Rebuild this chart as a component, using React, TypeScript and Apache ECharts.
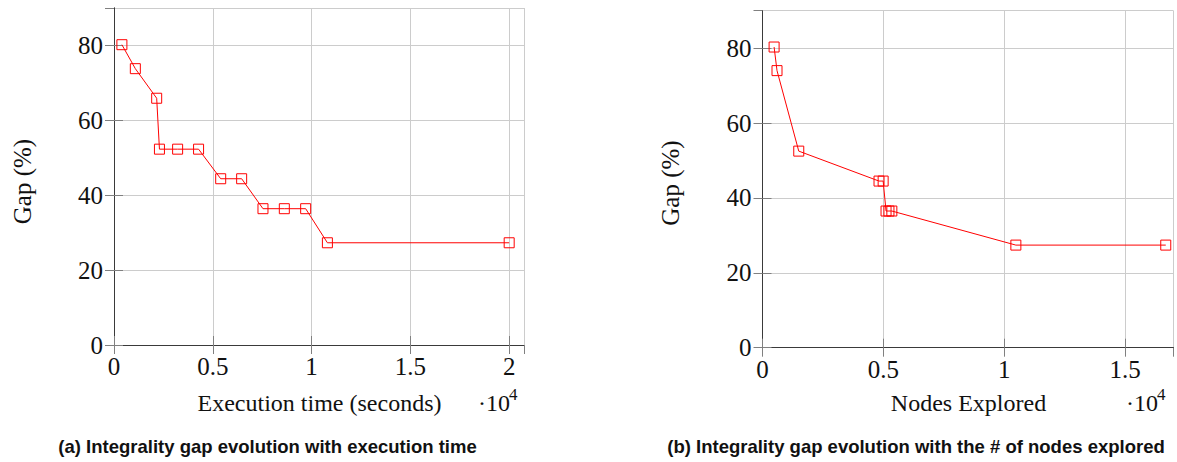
import React, { useEffect, useRef } from "react";
import * as echarts from "echarts";

// Left plot: gap vs execution time (seconds)
const timeSeconds = [400, 1080, 2160, 2300, 3220, 4280, 5400, 6460, 7540, 8620, 9700, 10800, 20000];
const timeGap = [80.2, 73.8, 65.9, 52.3, 52.3, 52.3, 44.4, 44.4, 36.4, 36.4, 36.4, 27.3, 27.3];

// Right plot: gap vs nodes explored
const nodesExplored = [480, 600, 1500, 4820, 4990, 5110, 5230, 5350, 10480, 16680];
const nodesGap = [80.3, 74.0, 52.5, 44.5, 44.5, 36.5, 36.5, 36.5, 27.4, 27.4];

const yTicks = [0, 20, 40, 60, 80];
const xTickLabels = ["0", "0.5", "1", "1.5", "2"];

const yAxisTitle = "Gap (%)";
const xTitleLeft = "Execution time (seconds)";
const xTitleRight = "Nodes Explored";
const captionLeft = "(a) Integrality gap evolution with execution time";
const captionRight = "(b) Integrality gap evolution with the # of nodes explored";

const SERIF = "Liberation Serif";
const SANS = "Liberation Sans";
const RED = "#ff0000";
const FRAME = "#3a3a3a";
const GRID = "#cccccc";
const TICK = "#808080";

export default function App() {
  const ref = useRef<HTMLDivElement>(null);

  useEffect(() => {
    if (!ref.current) return;
    const chart = echarts.init(ref.current, undefined, { renderer: "svg" });

    const xFmt = (v: number) => {
      const i = Math.round(v / 5000);
      if (Math.abs(v - i * 5000) > 1e-6) return "";
      return xTickLabels[i] ?? "";
    };
    const yFmt = (v: number) => (yTicks.includes(v) ? String(v) : "");

    const tick = { show: true, inside: true, length: 9, lineStyle: { color: TICK, width: 1 } };
    const line = { show: true, lineStyle: { color: FRAME, width: 1 } };

    const mainX = (gridIndex: number, max: number) => ({
      type: "value",
      gridIndex,
      min: 0,
      max,
      interval: 5000,
      position: "bottom",
      axisLine: line,
      axisTick: tick,
      axisLabel: {
        show: true,
        formatter: xFmt,
        margin: 9,
        fontFamily: SERIF,
        fontSize: 25,
        color: "#111",
        showMaxLabel: false,
      },
      splitLine: { show: true, lineStyle: { color: GRID, width: 1 } },
    });
    const topX = (gridIndex: number, max: number) => ({
      type: "value",
      gridIndex,
      min: 0,
      max,
      interval: 5000,
      position: "top",
      axisLine: line,
      axisTick: tick,
      axisLabel: { show: false },
      splitLine: { show: false },
    });
    const mainY = (gridIndex: number) => ({
      type: "value",
      gridIndex,
      min: 0,
      max: 90,
      interval: 20,
      position: "left",
      axisLine: line,
      axisTick: tick,
      axisLabel: {
        show: true,
        formatter: yFmt,
        margin: 11,
        fontFamily: SERIF,
        fontSize: 25,
        color: "#111",
        showMaxLabel: false,
      },
      splitLine: { show: true, lineStyle: { color: GRID, width: 1 } },
    });
    const rightY = (gridIndex: number) => ({
      type: "value",
      gridIndex,
      min: 0,
      max: 90,
      interval: 20,
      position: "right",
      axisLine: line,
      axisTick: tick,
      axisLabel: { show: false },
      splitLine: { show: false },
    });

    const lineSeries = (xs: number[], ys: number[], xi: number, yi: number) => ({
      type: "line",
      xAxisIndex: xi,
      yAxisIndex: yi,
      data: xs.map((x, i) => [x, ys[i]]),
      symbol: "rect",
      symbolSize: 10,
      showAllSymbol: true,
      lineStyle: { color: RED, width: 1 },
      itemStyle: { color: "rgba(0,0,0,0)", borderColor: RED, borderWidth: 1 },
      emphasis: { disabled: true },
      z: 5,
    });

    const txt = (
      text: string,
      x: number,
      y: number,
      opts: { size?: number; family?: string; weight?: string; align?: string; va?: string; rotation?: number } = {}
    ) => ({
      type: "text",
      x,
      y,
      rotation: opts.rotation ?? 0,
      style: {
        text,
        fontFamily: opts.family ?? SERIF,
        fontSize: opts.size ?? 24,
        fontWeight: opts.weight ?? "normal",
        fill: "#111",
        align: opts.align ?? "center",
        verticalAlign: opts.va ?? "middle",
      },
      z: 10,
    });

    chart.setOption({
      animation: false,
      backgroundColor: "#ffffff",
      textStyle: { fontFamily: SERIF },
      grid: [
        {
          left: 114,
          top: 8,
          width: 410,
          height: 337,
          show: false,
          containLabel: false,
          outerBoundsMode: "none",
        },
        {
          left: 762.5,
          top: 10.7,
          width: 411,
          height: 337,
          show: false,
          containLabel: false,
          outerBoundsMode: "none",
        },
      ],
      xAxis: [mainX(0, 20750), topX(0, 20750), mainX(1, 17000), topX(1, 17000)],
      yAxis: [mainY(0), rightY(0), mainY(1), rightY(1)],
      series: [
        lineSeries(timeSeconds, timeGap, 0, 0),
        lineSeries(nodesExplored, nodesGap, 2, 2),
      ],
      graphic: [
        txt(yAxisTitle, 22, 181.5, { rotation: Math.PI / 2, size: 25 }),
        txt(yAxisTitle, 670, 183, { rotation: Math.PI / 2, size: 25 }),
        txt(xTitleLeft, 319.5, 403),
        txt(xTitleRight, 968.5, 403),
        txt("·10", 478, 403, { align: "left" }),
        txt("4", 509, 394, { align: "left", size: 17 }),
        txt("·10", 1126, 403, { align: "left" }),
        txt("4", 1157, 394, { align: "left", size: 17 }),
        txt(captionLeft, 267.5, 446, { family: SANS, weight: "bold", size: 18.5 }),
        txt(captionRight, 916, 446, { family: SANS, weight: "bold", size: 18.5 }),
      ],
    });

    return () => chart.dispose();
  }, []);

  return (
    <div
      ref={ref}
      style={{ position: "fixed", left: 0, top: 0, width: 1177, height: 462, background: "#fff" }}
    />
  );
}
